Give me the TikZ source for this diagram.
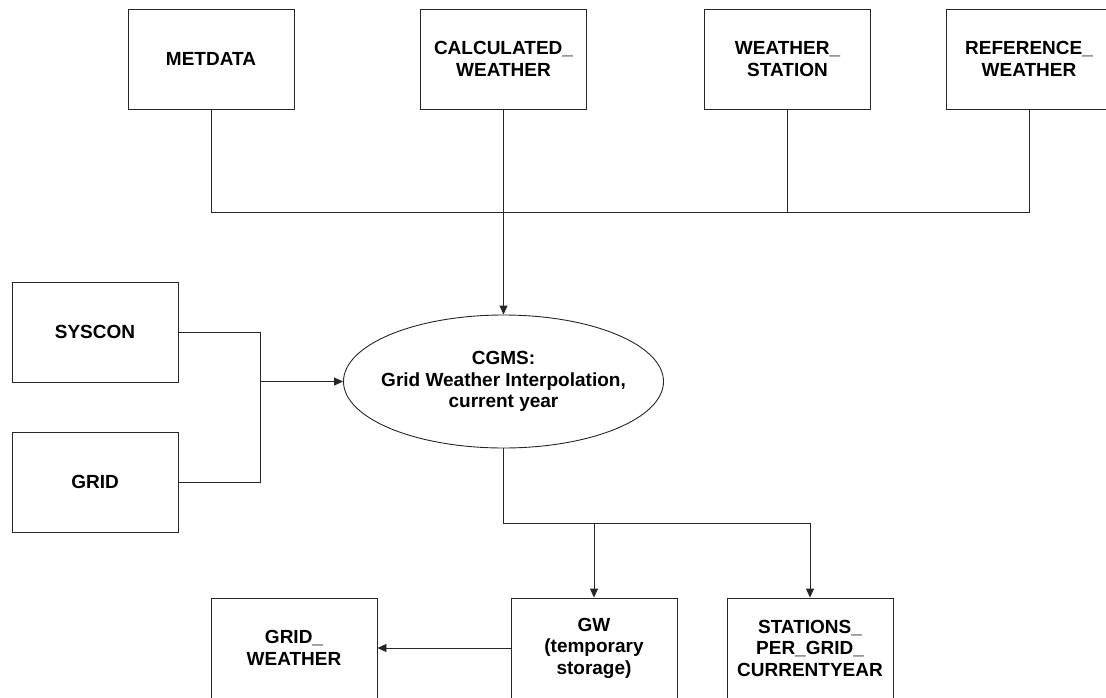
\documentclass[tikz,border=0pt]{standalone}
\usepackage{fontspec}
\setmainfont{Liberation Sans}
\usetikzlibrary{arrows.meta,shapes.geometric}
\begin{document}
\begin{tikzpicture}[x=1pt,y=-1pt,
  every node/.style={font=\fontsize{19}{21.5}\selectfont\bfseries, align=center},
  tbl/.style={draw=black!85, line width=0.9pt, minimum width=166pt, minimum height=100pt, inner sep=0pt},
  proc/.style={draw=black!85, line width=0.9pt, ellipse, minimum width=320pt, minimum height=133pt, inner xsep=-20pt, inner ysep=0pt},
  conn/.style={draw=black!85, line width=0.9pt},
  arr/.style={conn, -{Triangle[length=9pt,width=8pt]}}]
\useasboundingbox (0,0) rectangle (1106,697);
\node[tbl] (met) at (211,59) {METDATA};
\node[tbl] (cal) at (503.5,59) {CALCULATED\_\\WEATHER};
\node[tbl] (ws) at (787.5,59) {WEATHER\_\\STATION};
\node[tbl] (ref) at (1029,59) {REFERENCE\_\\WEATHER};
\node[tbl] (sys) at (95,332) {SYSCON};
\node[tbl] (grid) at (95,482) {GRID};
\node[proc] (cgms) at (503.5,381.5) {CGMS:\\Grid Weather Interpolation,\\current year};
\node[tbl] (gwe) at (294,648) {GRID\_\\WEATHER};
\node[tbl] (gw) at (594,648) {GW\\(temporary\\storage)};
\node[tbl] (st) at (810,648) {STATIONS\_\\PER\_GRID\_\\CURRENTYEAR};
\coordinate (bus) at (503.5,212);
\coordinate (lj) at (260,381.5);
\coordinate (bj) at (810,523);
\coordinate (bj1) at (594,523);
\draw[conn] (met.south) |- (bus);
\draw[conn] (cal.south) -- (bus);
\draw[conn] (ws.south) |- (bus);
\draw[conn] (ref.south) |- (bus);
\draw[arr] (bus) -- (cgms.north);
\draw[conn] (sys.east) -| (lj);
\draw[conn] (grid.east) -| (lj);
\draw[arr] (lj) -- (cgms.west);
\draw[conn] (cgms.south) |- (bj);
\draw[arr] (bj) -- (st.north);
\draw[arr] (bj1) -- (gw.north);
\draw[arr] (gw.west) -- (gwe.east);
\end{tikzpicture}
\end{document}
